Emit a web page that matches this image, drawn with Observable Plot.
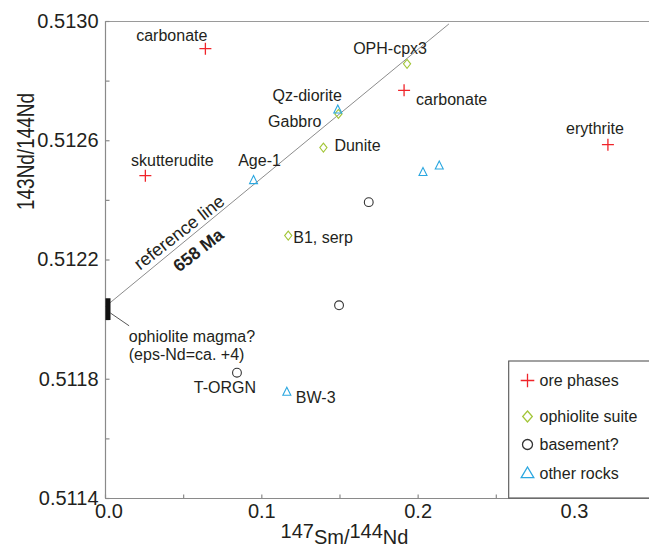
<!DOCTYPE html>
<html>
<head>
<meta charset="utf-8">
<script src="https://cdn.jsdelivr.net/npm/d3@7"></script>
<script src="https://cdn.jsdelivr.net/npm/@observablehq/plot@0.6"></script>
<style>
  html, body { margin: 0; padding: 0; background: #fff; }
  #chart { width: 649px; height: 547px; }
</style>
</head>
<body>
<div id="chart"></div>
<script>
// ---- data ----
const groups = ["ore phases", "ophiolite suite", "basement?", "other rocks"];
const sampleNames = ["carbonate", "skutterudite", "carbonate", "erythrite",
  "OPH-cpx3", "Gabbro", "Dunite", "B1, serp",
  "Qz-diorite", "Age-1", "", "", "BW-3",
  "", "", "T-ORGN"];
const sampleGroup = ["ore phases", "ore phases", "ore phases", "ore phases",
  "ophiolite suite", "ophiolite suite", "ophiolite suite", "ophiolite suite",
  "other rocks", "other rocks", "other rocks", "other rocks", "other rocks",
  "basement?", "basement?", "basement?"];
const smNd = [0.0639, 0.0255, 0.1910, 0.3214,
  0.1929, 0.1490, 0.1394, 0.1169,
  0.1486, 0.0947, 0.2031, 0.2135, 0.1160,
  0.1684, 0.1494, 0.0841];
const ndNd = [0.512909, 0.512483, 0.512769, 0.512587,
  0.512858, 0.512690, 0.512577, 0.512282,
  0.512704, 0.512467, 0.512494, 0.512516, 0.511757,
  0.512394, 0.512048, 0.511822];

// reference isochron (658 Ma) endpoints
const refLineX = [0, 0.2195];
const refLineY = [0.512044, 0.512991];
// ophiolite magma range at x = 0 (eps-Nd ca. +4)
const magmaRange = [0.511997, 0.512070];
// callout from magma bar to its note
const calloutX = [0.0032, 0.0149];
const calloutY = [0.512022, 0.511980];

const yMajorTicks = [0.5114, 0.5118, 0.5122, 0.5126, 0.5130];
const yMinorTicks = [0.5116, 0.5120, 0.5124, 0.5128];
const xMajorTicks = [0.0, 0.1, 0.2, 0.3];
const xMinorTicks = [0.05, 0.15, 0.25];

const xLabel = "147Sm/144Nd";
const yLabel = "143Nd/144Nd";
const magmaNote = "ophiolite magma?\n(eps-Nd=ca. +4)";
const refNote = "reference line";
const ageNote = "658 Ma";

// ---- layout / style (not data) ----
const labelLayout = {
  0: ["end", 2, -13], 1: ["middle", 27, -15], 2: ["start", 12, 10], 3: ["middle", -13, -16],
  4: ["middle", -17, -15], 5: ["end", -17, 8], 6: ["start", 11, -2], 7: ["start", 5, 2],
  8: ["end", 4, -14], 9: ["middle", 6, -20], 12: ["start", 9, 6], 15: ["middle", -12, 15]
};
const colors = {"ore phases": "#f0242a", "ophiolite suite": "#a3c639", "basement?": "#333333", "other rocks": "#2ba7e0"};

function plusSym(h) { return {draw(c) { c.moveTo(-h, 0); c.lineTo(h, 0); c.moveTo(0, -h); c.lineTo(0, h); }}; }
function diamondSym(w, h) { return {draw(c) { c.moveTo(0, -h); c.lineTo(w, 0); c.lineTo(0, h); c.lineTo(-w, 0); c.closePath(); }}; }
function circleSym(r) { return {draw(c) { c.moveTo(r, 0); c.arc(0, 0, r, 0, 2 * Math.PI); }}; }
function triSym(w, top, bot) { return {draw(c) { c.moveTo(0, -top); c.lineTo(w, bot); c.lineTo(-w, bot); c.closePath(); }}; }
const hTick = {draw(c) { c.moveTo(0, 0); c.lineTo(4, 0); }};
const vTick = {draw(c) { c.moveTo(0, 0); c.lineTo(0, -4); }};

const plotSymbols = {"ore phases": plusSym(6), "ophiolite suite": diamondSym(3.6, 4.5), "basement?": circleSym(4.4), "other rocks": triSym(4, 4.8, 3.2)};
const legendSymbols = {"ore phases": plusSym(6.8), "ophiolite suite": diamondSym(4.8, 5.5), "basement?": circleSym(5), "other rocks": triSym(6.3, 6.5, 4.2)};
const legendDy = [-118, -82, -54, -25];

const samples = sampleNames.map((name, i) => ({name, group: sampleGroup[i], x: smNd[i], y: ndNd[i], i}));
const axisGray = "#8a8a8a";
const textColor = "#231f20";

const marks = [];
// frame lines
marks.push(Plot.ruleX([0], {stroke: axisGray, strokeWidth: 1.2}));
marks.push(Plot.ruleY([yMajorTicks[0]], {stroke: axisGray, strokeWidth: 1.2}));
marks.push(Plot.ruleY([yMajorTicks[yMajorTicks.length - 1]], {stroke: "#9a9a9a", strokeWidth: 1.2}));
// ticks
marks.push(Plot.dot(yMajorTicks.concat(yMinorTicks), {y: d => d, frameAnchor: "left", symbol: hTick, stroke: axisGray, fill: "none", strokeWidth: 1.2}));
marks.push(Plot.dot(xMajorTicks.concat(xMinorTicks), {x: d => d, frameAnchor: "bottom", symbol: vTick, stroke: axisGray, fill: "none", strokeWidth: 1.2}));
marks.push(Plot.text(yMajorTicks, {y: d => d, text: d => d.toFixed(4), frameAnchor: "left", textAnchor: "end", lineAnchor: "middle", dx: -7, fontSize: 20, fill: textColor}));
marks.push(Plot.text(xMajorTicks.slice(0, 1), {x: d => d, text: d => d.toFixed(1), frameAnchor: "bottom", lineAnchor: "middle", dx: 3.5, dy: 13, fontSize: 20, fill: textColor}));
marks.push(Plot.text(xMajorTicks.slice(1), {x: d => d, text: d => d.toFixed(1), frameAnchor: "bottom", lineAnchor: "middle", dy: 13, fontSize: 20, fill: textColor}));
// axis labels
marks.push(Plot.text([yLabel], {text: d => d, frameAnchor: "left", rotate: -90, lineAnchor: "middle", dx: -79, dy: -50, fontSize: 24, fill: textColor, className: "ylab"}));
marks.push(Plot.text([xLabel], {text: d => d, frameAnchor: "bottom", dx: -33, dy: 32.6, lineAnchor: "middle", fontSize: 20, fill: textColor, className: "xlab"}));
// reference line and annotation
marks.push(Plot.line(refLineX.map((x, i) => ({x, y: refLineY[i]})), {x: "x", y: "y", stroke: "#6f6f6f", strokeWidth: 0.8}));
marks.push(Plot.ruleX([0], {y1: magmaRange[0], y2: magmaRange[1], stroke: "#111", strokeWidth: 5, dx: 2.5}));
marks.push(Plot.line(calloutX.map((x, i) => ({x, y: calloutY[i]})), {x: "x", y: "y", stroke: "#444", strokeWidth: 0.9}));
marks.push(Plot.text([magmaNote], {x: calloutX[1], y: calloutY[1], text: d => d, textAnchor: "start", lineAnchor: "middle", lineHeight: 1.1, dx: 0, dy: 19.5, fontSize: 16, fill: textColor}));
const refAt = x => refLineY[0] + (refLineY[1] - refLineY[0]) / (refLineX[1] - refLineX[0]) * x;
marks.push(Plot.text([refNote], {x: 0.0473, y: refAt(0.0473), text: d => d, rotate: -38, dy: -13, fontSize: 18, fill: textColor}));
marks.push(Plot.text([ageNote], {x: 0.0595, y: refAt(0.0595), text: d => d, rotate: -38, dy: 20.5, fontSize: 17.5, fontWeight: "bold", fill: textColor}));
// data points
for (const g of groups) {
  marks.push(Plot.dot(samples.filter(d => d.group === g), {x: "x", y: "y", symbol: plotSymbols[g], stroke: colors[g], fill: "none", strokeWidth: g === "ore phases" ? 1.3 : 1.1}));
}
// point labels
for (const s of samples) {
  if (!s.name) continue;
  const [anchor, dx, dy] = labelLayout[s.i];
  marks.push(Plot.text([s], {x: "x", y: "y", text: "name", textAnchor: anchor, lineAnchor: "middle", dx, dy, fontSize: 16, fill: textColor}));
}
// legend box
marks.push((index, scales, values, dimensions) => {
  const r = document.createElementNS("http://www.w3.org/2000/svg", "rect");
  const right = dimensions.width - dimensions.marginRight;
  const bottom = dimensions.height - dimensions.marginBottom;
  r.setAttribute("x", right - 140.3);
  r.setAttribute("y", bottom - 137);
  r.setAttribute("width", 150);
  r.setAttribute("height", 137);
  r.setAttribute("fill", "#fff");
  r.setAttribute("stroke", "#555");
  r.setAttribute("stroke-width", 1.1);
  return r;
});
groups.forEach((g, k) => {
  marks.push(Plot.dot([g], {frameAnchor: "bottom-right", dx: -122, dy: legendDy[k], symbol: legendSymbols[g], stroke: colors[g], fill: "none", strokeWidth: 1.3}));
  marks.push(Plot.text([g], {text: d => d, frameAnchor: "bottom-right", textAnchor: "start", lineAnchor: "middle", dx: -110, dy: legendDy[k], fontSize: 16, fill: textColor}));
});

const chart = Plot.plot({
  width: 649,
  height: 547,
  marginLeft: 105,
  marginRight: 0,
  marginTop: 21,
  marginBottom: 49,
  x: {domain: [0, 0.348], axis: null},
  y: {domain: [0.5114, 0.5130], axis: null},
  style: {fontFamily: "'Liberation Sans', Arial, sans-serif", background: "#fff", overflow: "visible"},
  marks
});
document.getElementById("chart").appendChild(chart);

// fine-tune axis label typography
const yl = chart.querySelector(".ylab text");
if (yl) { yl.setAttribute("textLength", 117); yl.setAttribute("lengthAdjust", "spacingAndGlyphs"); }
const xl = chart.querySelector(".xlab text");
if (xl) {
  const parts = [["147", 0], ["Sm/", 6.5], ["144", -6.5], ["Nd", 6.5]];
  xl.textContent = "";
  for (const [t, dy] of parts) {
    const ts = document.createElementNS("http://www.w3.org/2000/svg", "tspan");
    if (dy) ts.setAttribute("dy", dy);
    ts.textContent = t;
    xl.appendChild(ts);
  }
}
</script>
</body>
</html>
